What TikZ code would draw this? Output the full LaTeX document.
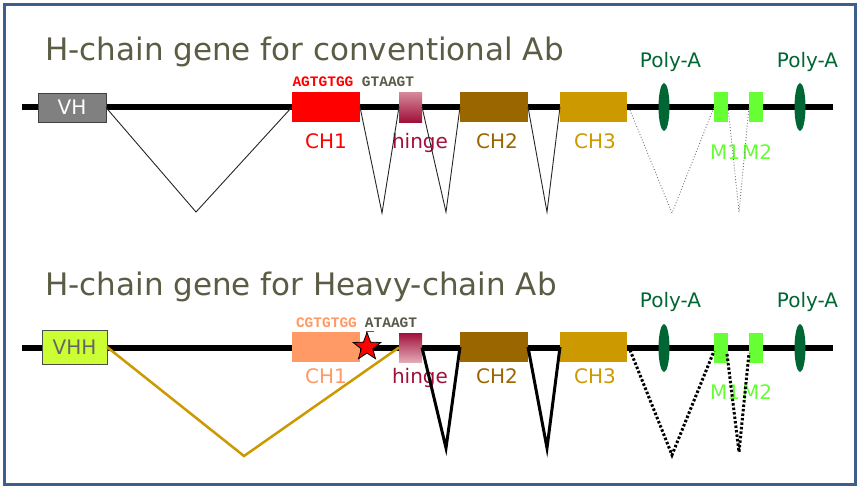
\documentclass[tikz,border=0pt]{standalone}
\usepackage{fontspec}
\setmainfont{DejaVu Sans}
\setmonofont{Liberation Mono}
\usetikzlibrary{shapes.geometric}
\definecolor{frameblue}{HTML}{3D5F8C}
\definecolor{titlec}{HTML}{5C5C45}
\definecolor{seqgray}{HTML}{5A5A48}
\definecolor{chone}{HTML}{FF0000}
\definecolor{chonel}{HTML}{FF9966}
\definecolor{chtwo}{HTML}{996600}
\definecolor{chthree}{HTML}{CC9900}
\definecolor{hingec}{HTML}{A0103A}
\definecolor{hingel}{HTML}{E0A0AC}
\definecolor{polyc}{HTML}{006633}
\definecolor{mgreen}{HTML}{66FF33}
\definecolor{vhhc}{HTML}{CCFF33}
\definecolor{golden}{HTML}{CC9900}
\tikzset{
  exon/.style={inner sep=0pt, outer sep=0pt, minimum width=68pt, minimum height=30pt},
  mexon/.style={inner sep=0pt, outer sep=0pt, minimum width=14pt, minimum height=30pt, fill=mgreen},
  hingebox/.style={inner sep=0pt, outer sep=0pt, minimum width=23pt, minimum height=30pt},
  polya/.style={ellipse, inner sep=0pt, outer sep=0pt, minimum width=11pt, minimum height=48pt, fill=polyc},
  titletext/.style={anchor=base west, inner sep=0pt, text=titlec, font=\fontsize{31}{36}\selectfont},
  lbl/.style={anchor=base, inner sep=0pt, font=\fontsize{20}{24}\selectfont},
  seq/.style={anchor=base, inner sep=0pt, font=\fontsize{14.5}{16}\selectfont\ttfamily\bfseries},
  backbone/.style={line width=6.5pt, black},
  thinsplice/.style={line width=0.9pt, black!85},
  dotsplice/.style={line width=0.9pt, black!55, dotted},
  thicksplice/.style={line width=3pt, black, line join=miter},
  dotthick/.style={line width=3pt, black, dash pattern=on 2.5pt off 2pt},
  goldsplice/.style={line width=2.5pt, golden, line join=miter}
}
\begin{document}
\begin{tikzpicture}[x=1pt,y=-1pt]
\useasboundingbox (0,0) rectangle (859,488);
\fill[white] (0,0) rectangle (859,488);
\draw[frameblue, line width=3pt] (4,4) rectangle (855.5,484.5);

% ---------- top gene ----------
\node[titletext] (t1) at (45,60) {H-chain gene for conventional Ab};
\coordinate (La) at (22,107);
\coordinate (Ra) at (833,107);
\draw[backbone] (La) -- (Ra);

\node[exon, minimum height=29pt, fill=black!50, draw=black!75, line width=0.8pt, text=white, font=\fontsize{20}{24}\selectfont] (VH) at (72,107.5) {VH};
\node[exon, fill=chone] (CH1a) at (326,107) {};
\node[hingebox, top color=hingel!85!hingec, bottom color=hingec] (HIa) at (410.5,107) {};
\node[exon, fill=chtwo] (CH2a) at (494,107) {};
\node[exon, minimum width=67pt, fill=chthree] (CH3a) at (593.5,107) {};
\node[polya] (PAa1) at (664,107) {};
\node[mexon] (M1a) at (721,107) {};
\node[mexon] (M2a) at (756,107) {};
\node[polya] (PAa2) at (800,107) {};

\node[lbl, text=chone] (lCH1a) at (326,148) {CH1};
\node[lbl, text=hingec] (lHIa) at (420,148) {hinge};
\node[lbl, text=chtwo] (lCH2a) at (497,148) {CH2};
\node[lbl, text=chthree] (lCH3a) at (595,148) {CH3};
\node[lbl, text=polyc] (lPAa1) at (670.5,67) {Poly-A};
\node[lbl, text=polyc] (lPAa2) at (807.5,67) {Poly-A};
\node[lbl, text=mgreen] (lM1a) at (725,159) {M1};
\node[lbl, text=mgreen] (lM2a) at (757,159) {M2};
\node[seq, text=chone] (s1a) at (323,86) {AGTGTGG};
\node[seq, text=seqgray] (s2a) at (388,86) {GTAAGT};

\coordinate (v1) at (196,212);
\coordinate (v2) at (382,213);
\coordinate (v3) at (446,212);
\coordinate (v4) at (547,212);
\coordinate (v5) at (672,213);
\coordinate (v6) at (739,212);
\draw[thinsplice] (VH.east) -- (v1) -- (CH1a.west);
\draw[thinsplice] (CH1a.east) -- (v2) -- (HIa.west);
\draw[thinsplice] (HIa.east) -- (v3) -- (CH2a.west);
\draw[thinsplice] (CH2a.east) -- (v4) -- (CH3a.west);
\draw[dotsplice] ([xshift=3pt,yshift=-3pt]CH3a.east) -- (v5) -- (M1a.west);
\draw[dotsplice] (M1a.east) -- (v6) -- (M2a.west);

% ---------- bottom gene ----------
\node[titletext] (t2) at (45,295) {H-chain gene for Heavy-chain Ab};
\coordinate (Lb) at (22,348);
\coordinate (Rb) at (833,348);
\draw[backbone] (Lb) -- (Rb);

\node[exon, minimum width=65pt, minimum height=34pt, fill=vhhc, draw=black!70, line width=0.8pt, text=black!60, font=\fontsize{20}{24}\selectfont] (VHH) at (74.5,347) {VHH};
\node[exon, fill=chonel] (CH1b) at (326,347) {};
\node[hingebox, minimum height=29pt, top color=hingec, bottom color=hingel!90!white] (HIb) at (410.5,347.5) {};
\node[exon, fill=chtwo] (CH2b) at (494,347) {};
\node[exon, minimum width=67pt, fill=chthree] (CH3b) at (593.5,347) {};
\node[polya] (PAb1) at (664,348) {};
\node[mexon] (M1b) at (721,348) {};
\node[mexon] (M2b) at (756,348) {};
\node[polya] (PAb2) at (800,348) {};

\node[lbl, text=chonel] (lCH1b) at (326,383) {CH1};
\node[lbl, text=hingec] (lHIb) at (420,383) {hinge};
\node[lbl, text=chtwo] (lCH2b) at (497,383) {CH2};
\node[lbl, text=chthree] (lCH3b) at (595,383) {CH3};
\node[lbl, text=polyc] (lPAb1) at (670.5,307) {Poly-A};
\node[lbl, text=polyc] (lPAb2) at (807.5,307) {Poly-A};
\node[lbl, text=mgreen] (lM1b) at (725,399) {M1};
\node[lbl, text=mgreen] (lM2b) at (757,399) {M2};
\node[seq, text=chonel] (s1b) at (326.5,327) {CGTGTGG};
\node[seq, text=seqgray] (s2b) at (391,327) {ATAAGT};

\coordinate (w1) at (244,456);
\coordinate (w2) at (446,448);
\coordinate (w3) at (547,448);
\coordinate (w4) at (672,455);
\coordinate (w5) at (739,452);
\draw[goldsplice] (VHH.east) -- (w1) -- (HIb.west);
\draw[thicksplice] (HIb.east) -- (w2) -- (CH2b.west);
\draw[thicksplice] (CH2b.east) -- (w3) -- (CH3b.west);
\draw[dotthick] ([xshift=3pt,yshift=-3pt]CH3b.east) -- (w4) -- ([yshift=-3pt]M1b.west);
\draw[dotthick] ([xshift=-1pt,yshift=-6pt]M1b.east) -- (w5) -- ([yshift=-5pt]M2b.west);

\coordinate (k1) at (374,331);
\coordinate (k2) at (366,331);
\coordinate (k3) at (366,337);
\draw[seqgray, line width=1pt] (k1) -- (k2) -- (k3);
\node[star, star points=5, star point ratio=2.4, minimum size=29pt, inner sep=0pt, fill=red, draw=black, line width=0.8pt] (star) at (367,347) {};
\end{tikzpicture}
\end{document}
